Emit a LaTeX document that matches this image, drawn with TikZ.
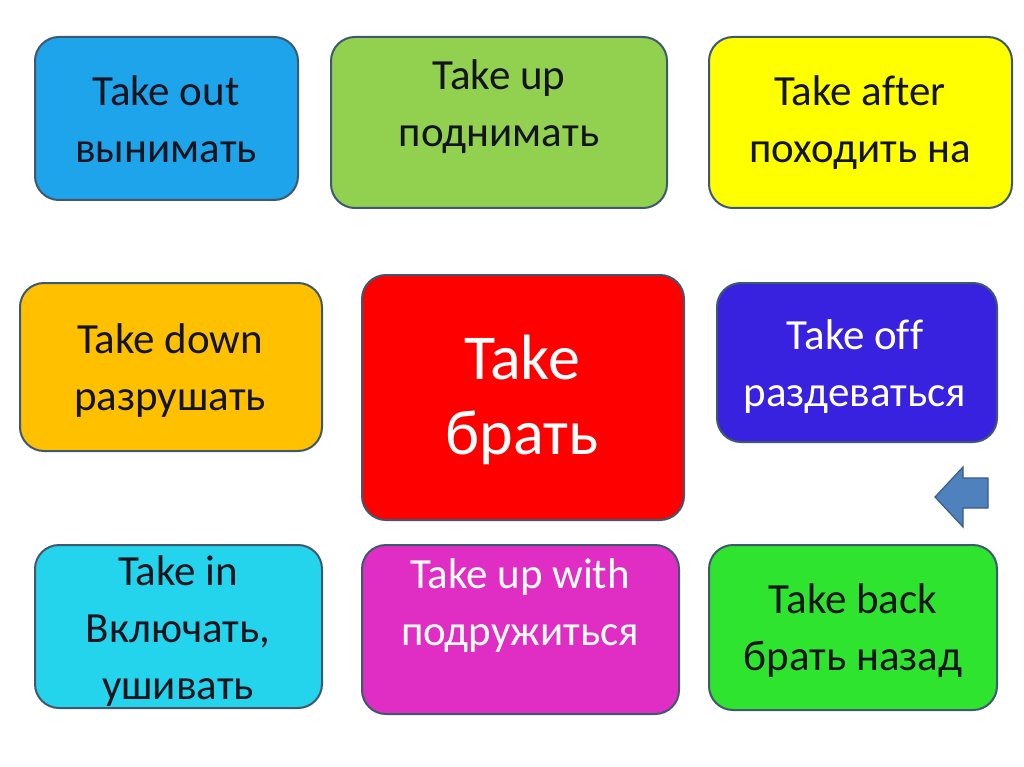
\documentclass[tikz,border=0pt]{standalone}
\usepackage{fontspec}
\setmainfont[Ligatures=NoCommon]{Carlito}
\definecolor{edge}{RGB}{62,88,112}
\definecolor{cOut}{RGB}{30,164,234}
\definecolor{cUp}{RGB}{146,208,80}
\definecolor{cAfter}{RGB}{255,255,0}
\definecolor{cDown}{RGB}{255,192,0}
\definecolor{cTake}{RGB}{255,0,0}
\definecolor{cOff}{RGB}{56,34,224}
\definecolor{cIn}{RGB}{36,212,236}
\definecolor{cWith}{RGB}{224,46,196}
\definecolor{cBack}{RGB}{46,228,46}
\definecolor{txtdark}{RGB}{20,20,30}
\definecolor{arrfill}{RGB}{79,129,189}
\definecolor{arredge}{RGB}{56,93,138}
\begin{document}
\begin{tikzpicture}[x=1pt,y=-1pt,
  box/.style={draw=edge, line width=2pt, rounded corners=24pt, inner sep=0pt},
  txt/.style={align=center, inner sep=0pt, font=\fontsize{43}{57}\selectfont, text=txtdark},
  wtxt/.style={txt, text=white},
  bigtxt/.style={align=center, inner sep=0pt, font=\fontsize{64}{75}\selectfont, text=white},
  arrowshape/.style={fill=arrfill, draw=arredge, line width=1.2pt, line join=miter}]
\useasboundingbox[fill=white] (0,0) rectangle (1024,767);
% boxes
\node[box, fill=cOut,   minimum width=263pt, minimum height=163pt] (b1) at (166.5,118.5) {};
\node[box, fill=cUp,    minimum width=336pt, minimum height=171pt] (b2) at (499,122.5) {};
\node[box, fill=cAfter, minimum width=303pt, minimum height=171pt] (b3) at (860.5,122.5) {};
\node[box, fill=cDown,  minimum width=302pt, minimum height=168pt] (b4) at (171,367) {};
\node[box, fill=cTake,  minimum width=322pt, minimum height=245pt] (b5) at (523,397.5) {};
\node[box, fill=cOff,   minimum width=280pt, minimum height=159pt] (b6) at (857,362.5) {};
\node[box, fill=cIn,    minimum width=287pt, minimum height=163pt] (b7) at (178.5,626.5) {};
\node[box, fill=cWith,  minimum width=317pt, minimum height=169pt] (b8) at (520.5,629.5) {};
\node[box, fill=cBack,  minimum width=288pt, minimum height=165pt] (b9) at (853,627.5) {};
% texts
\node[txt]  (t1) at (166,119) {Take out\\вынимать};
\node[txt]  (t2) at (499,107) {Take up\\поднимать};
\node[txt]  (t3) at (860,123) {Take after\\походить на};
\node[txt]  (t4) at (170,371) {Take down\\разрушать};
\node[bigtxt] (t5) at (522,400) {Take\\брать};
\node[wtxt] (t6) at (855,367) {Take of\kern0pt f\\раздеваться};
\node[txt]  (t7) at (178,631) {Take in\\Включать,\\ушивать};
\node[wtxt] (t8) at (520,606) {Take up with\\подружиться};
\node[txt]  (t9) at (853,631) {Take back\\брать назад};
% arrow shape
\draw[arrowshape] (935,497) -- (963,467) -- (963,478) -- (988,478) -- (988,508) -- (963,508) -- (963,527) -- cycle;
\end{tikzpicture}
\end{document}
